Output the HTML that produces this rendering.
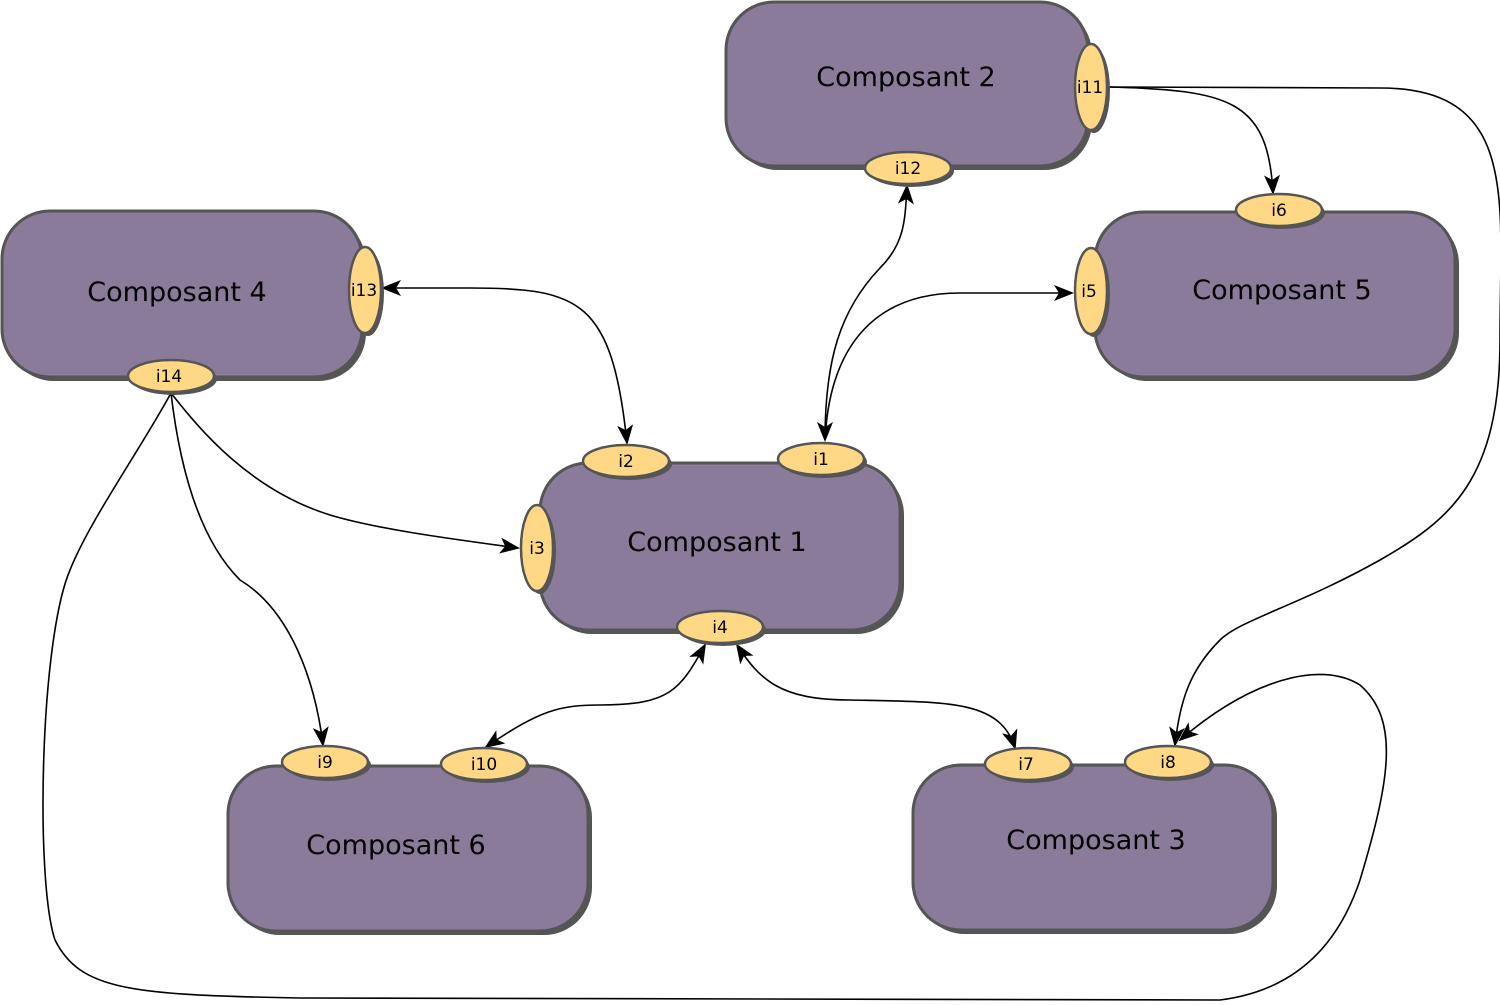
<!DOCTYPE html>
<html><head><meta charset="utf-8"><style>
html,body{margin:0;padding:0;background:#fff}
svg{display:block}
text{font-family:"DejaVu Sans","Liberation Sans",sans-serif;fill:#000}
</style></head><body>
<svg width="1500" height="1005" viewBox="0 0 1500 1005" xmlns="http://www.w3.org/2000/svg">
<defs>
<marker id="a" viewBox="0 0 20 16" refX="18" refY="8" markerWidth="20" markerHeight="16" markerUnits="userSpaceOnUse" orient="auto-start-reverse">
<path d="M0,0 L20,8 L0,16 L5,8 Z" fill="#000"/>
</marker>
</defs>
<g fill="none" stroke="#000" stroke-width="1.6">
<path d="M383,288 L470,288 C580,288 612,300 627,443" marker-start="url(#a)" marker-end="url(#a)"/>
<path d="M825,440 C825,360 840,310 880,268 C905,243 905,220 907,186" marker-start="url(#a)" marker-end="url(#a)"/>
<path d="M825,440 C830,340 880,293 960,293 L1072,293" marker-end="url(#a)"/>
<path d="M1108,87 C1230,90 1268,100 1273,193" marker-end="url(#a)"/>
<path d="M1108,87 L1380,88 C1520,88 1500,200 1500,340 C1500,480 1450,520 1380,560 C1300,605 1240,620 1220,640 C1190,670 1180,700 1175,745" marker-end="url(#a)"/>
<path d="M171,393 C200,430 250,490 330,515 C380,530 460,540 518,548" marker-end="url(#a)"/>
<path d="M171,393 C180,470 200,540 240,580 C290,610 315,680 323,745" marker-end="url(#a)"/>
<path d="M171,393 C140,450 90,520 70,570 C40,640 35,880 55,940 C80,990 130,995 300,998 L1220,1000 C1300,990 1340,940 1360,880 C1390,780 1400,720 1360,685 C1320,660 1250,680 1180,740" marker-end="url(#a)"/>
<path d="M705,645 C680,690 670,705 600,705 C560,705 540,710 486,747" marker-start="url(#a)" marker-end="url(#a)"/>
<path d="M737,645 C760,680 780,700 850,700 C950,702 1000,700 1015,748" marker-start="url(#a)" marker-end="url(#a)"/>
</g>
<g stroke="#555" stroke-width="3">
<g fill="#555" stroke="none">
<rect x="544" y="467" width="360" height="167" rx="48"/>
<rect x="730" y="6" width="362" height="164" rx="48"/>
<rect x="6" y="215" width="360" height="166" rx="48"/>
<rect x="1099" y="216" width="360" height="165" rx="48"/>
<rect x="232" y="770" width="360" height="165" rx="48"/>
<rect x="917" y="769" width="360" height="165" rx="48"/>
</g>
<g fill="#8a7b9b">
<rect x="540" y="463" width="360" height="167" rx="48"/>
<rect x="726" y="2" width="362" height="164" rx="48"/>
<rect x="2" y="211" width="360" height="166" rx="48"/>
<rect x="1095" y="212" width="360" height="165" rx="48"/>
<rect x="228" y="766" width="360" height="165" rx="48"/>
<rect x="913" y="765" width="360" height="165" rx="48"/>
</g>
<g fill="#555" stroke="none">
<ellipse cx="824" cy="462" rx="43" ry="16"/><ellipse cx="629" cy="464" rx="43" ry="16"/>
<ellipse cx="540" cy="551" rx="16" ry="43"/><ellipse cx="723" cy="630" rx="43" ry="16"/>
<ellipse cx="1094" cy="294" rx="16" ry="43"/><ellipse cx="1282" cy="213" rx="43" ry="16"/>
<ellipse cx="1094" cy="90" rx="16" ry="43"/><ellipse cx="911" cy="171" rx="43" ry="16"/>
<ellipse cx="368" cy="293" rx="16" ry="43"/><ellipse cx="174" cy="379" rx="43" ry="16"/>
<ellipse cx="328" cy="765" rx="43" ry="16"/><ellipse cx="487" cy="767" rx="43" ry="16"/>
<ellipse cx="1031" cy="767" rx="43" ry="16"/><ellipse cx="1171" cy="765" rx="43" ry="16"/>
</g>
<g fill="#ffd886" stroke-width="2.5">
<ellipse cx="821" cy="459" rx="43" ry="16"/><ellipse cx="626" cy="461" rx="43" ry="16"/>
<ellipse cx="537" cy="548" rx="16" ry="43"/><ellipse cx="720" cy="627" rx="43" ry="16"/>
<ellipse cx="1091" cy="291" rx="16" ry="43"/><ellipse cx="1279" cy="210" rx="43" ry="16"/>
<ellipse cx="1091" cy="87" rx="16" ry="43"/><ellipse cx="908" cy="168" rx="43" ry="16"/>
<ellipse cx="365" cy="290" rx="16" ry="43"/><ellipse cx="171" cy="376" rx="43" ry="16"/>
<ellipse cx="325" cy="762" rx="43" ry="16"/><ellipse cx="484" cy="764" rx="43" ry="16"/>
<ellipse cx="1028" cy="764" rx="43" ry="16"/><ellipse cx="1168" cy="762" rx="43" ry="16"/>
</g>
</g>
<g font-size="27" text-anchor="middle">
<text x="717" y="551">Composant 1</text>
<text x="906" y="86">Composant 2</text>
<text x="1096" y="849">Composant 3</text>
<text x="177" y="301">Composant 4</text>
<text x="1282" y="299">Composant 5</text>
<text x="396" y="854">Composant 6</text>
</g>
<g font-size="17" text-anchor="middle">
<text x="821" y="465">i1</text><text x="626" y="467">i2</text>
<text x="537" y="554">i3</text><text x="720" y="633">i4</text>
<text x="1089" y="297">i5</text><text x="1279" y="216">i6</text>
<text x="1090" y="93">i11</text><text x="908" y="174">i12</text>
<text x="364" y="296">i13</text><text x="169" y="382">i14</text>
<text x="325" y="768">i9</text><text x="484" y="770">i10</text>
<text x="1026" y="770">i7</text><text x="1168" y="768">i8</text>
</g>
</svg>
</body></html>
